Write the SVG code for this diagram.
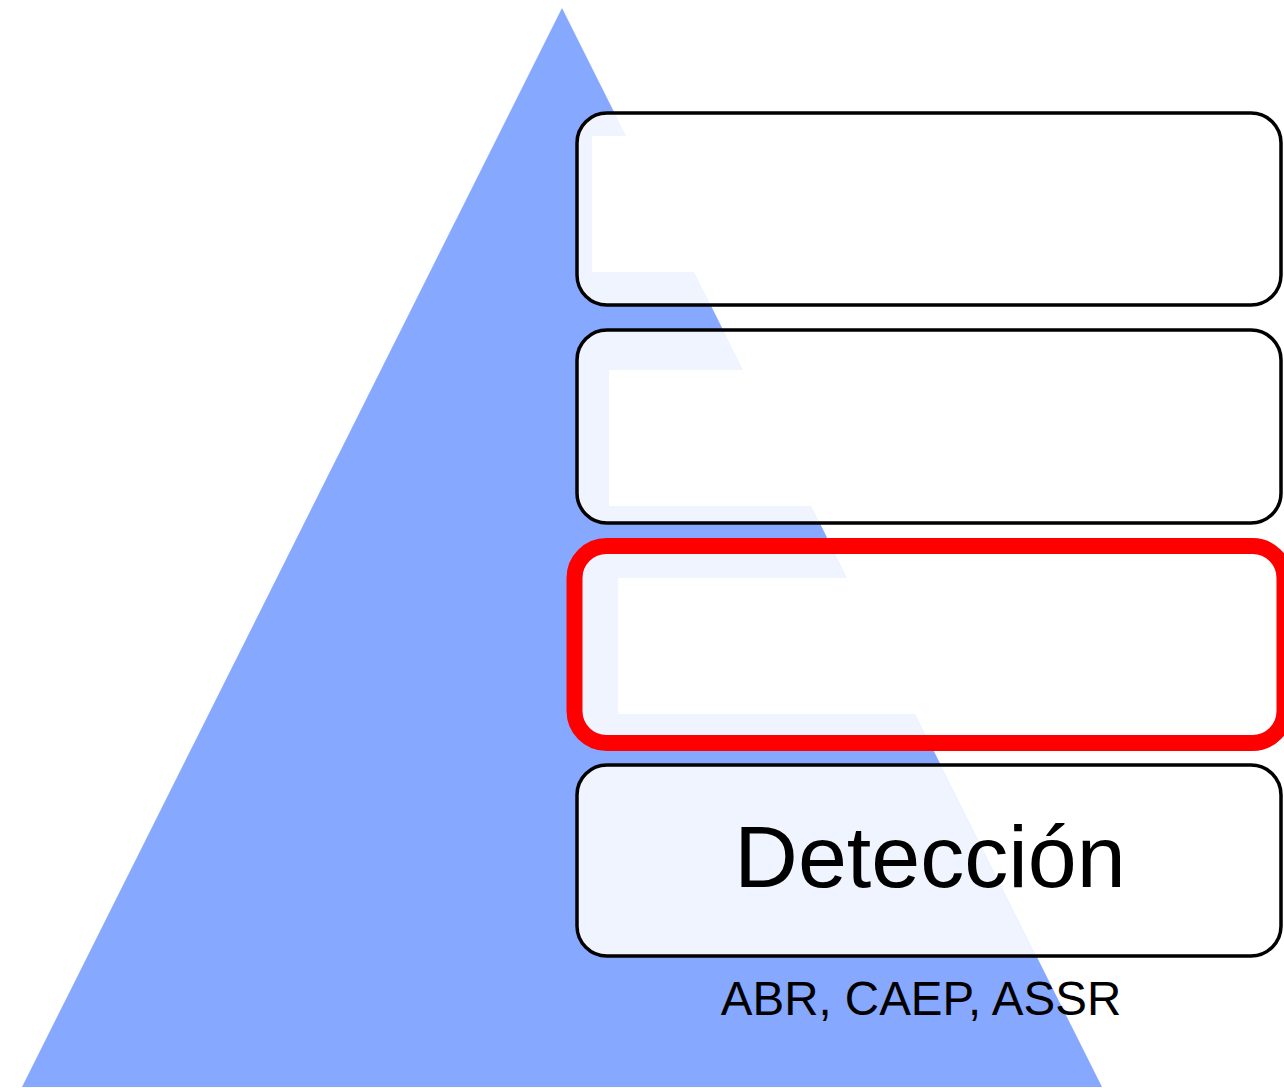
<svg xmlns="http://www.w3.org/2000/svg" width="1284" height="1088" viewBox="0 0 1284 1088">
<style>
.tint{fill:#ffffff;fill-opacity:0.87;stroke:none}
.inner{fill:#ffffff;stroke:none}
.edge{fill:none;stroke:#000000;stroke-width:3.5}
.edge-red{fill:none;stroke:#ff0000;stroke-width:16}
.lbl{font-family:"Liberation Sans",Arial,sans-serif;fill:#000000;text-anchor:middle}
</style>
<rect width="1284" height="1088" fill="#ffffff"/>
<polygon id="pyramid" points="562,8 1102,1087 22,1087" fill="#87a8ff"/>
<g id="box1">
<rect class="tint" x="577" y="113" width="704" height="192" rx="30"/>
<rect class="inner" x="592" y="136" width="660" height="136"/>
<rect class="edge" x="577" y="113" width="704" height="192" rx="30"/>
</g>
<g id="box2">
<rect class="tint" x="577" y="330" width="704" height="193" rx="30"/>
<rect class="inner" x="609" y="370" width="640" height="136"/>
<rect class="edge" x="577" y="330" width="704" height="193" rx="30"/>
</g>
<g id="box3">
<rect class="tint" x="574" y="546" width="710" height="197" rx="32"/>
<rect class="inner" x="618" y="578" width="630" height="136"/>
<rect class="edge-red" x="574.5" y="546" width="710" height="197" rx="32"/>
</g>
<g id="box4">
<rect class="tint" x="577" y="765" width="704" height="191" rx="30"/>
<rect class="edge" x="577" y="765" width="704" height="191" rx="30"/>
<text class="lbl" x="930" y="887" font-size="88">Detección</text>
</g>
<g id="caption">
<text class="lbl" x="921" y="1015" font-size="47.5">ABR, CAEP, ASSR</text>
</g>
<g id="connectors"/>
</svg>
